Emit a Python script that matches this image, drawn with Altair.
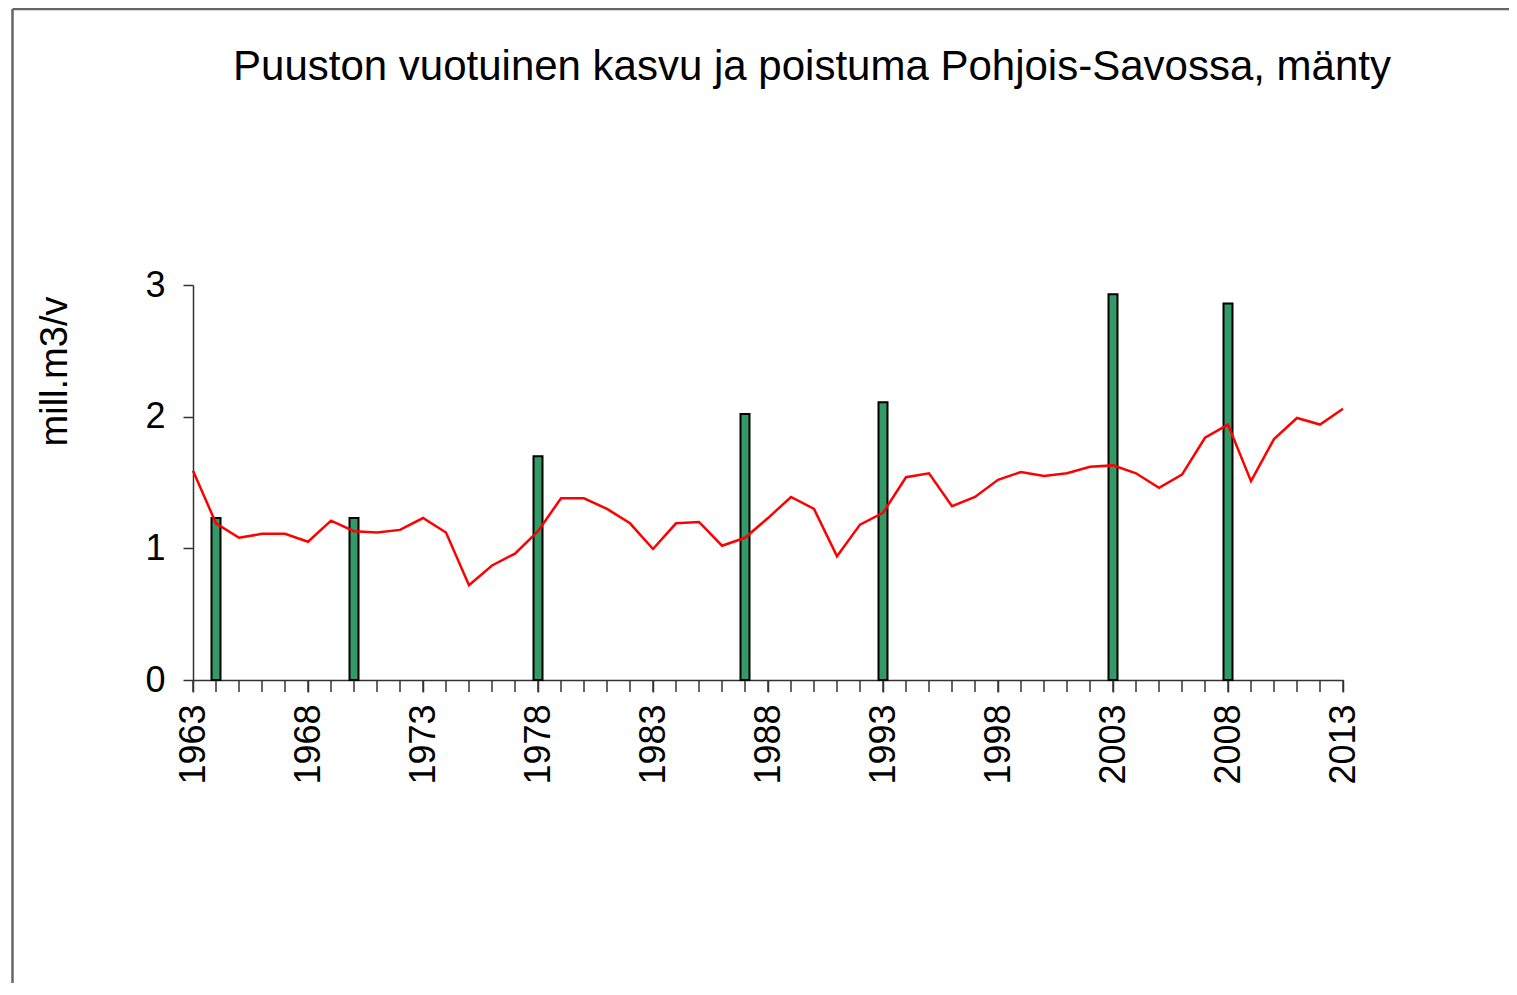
import altair as alt
import pandas as pd

# Data
years = list(range(1963, 2014))
kasvu = [1.59, 1.19, 1.08, 1.11, 1.11, 1.05, 1.21, 1.13, 1.12, 1.14,
         1.23, 1.12, 0.72, 0.87, 0.96, 1.13, 1.38, 1.38, 1.30, 1.19,
         0.995, 1.19, 1.20, 1.02, 1.08, 1.23, 1.39, 1.30, 0.94, 1.18,
         1.27, 1.54, 1.57, 1.32, 1.39, 1.52, 1.58, 1.55, 1.57, 1.62,
         1.63, 1.57, 1.46, 1.56, 1.84, 1.94, 1.51, 1.83, 1.99, 1.94,
         2.06]
poistuma_years = [1964, 1970, 1978, 1987, 1993, 2003, 2008]
poistuma = [1.23, 1.23, 1.70, 2.02, 2.11, 2.93, 2.86]
label_years = list(range(1963, 2014, 5))
y_ticks = [0, 1, 2, 3]

title_text = "Puuston vuotuinen kasvu ja poistuma Pohjois-Savossa, mänty"
y_title = "mill.m3/v"

FONT = "Liberation Sans"
W, H = 1150, 395
PAD_L, PAD_T = 185, 277
TOTAL_W, TOTAL_H = 1501, 975
TICK = 12

line_df = pd.DataFrame({"vuosi": years, "arvo": kasvu})
bar_df = pd.DataFrame({"vuosi": poistuma_years, "arvo": poistuma})
tick_df = pd.DataFrame({"vuosi": years})

x_scale = alt.Scale(domain=[1963, 2013], nice=False, zero=False, padding=0)
y_scale = alt.Scale(domain=[0, 3], nice=False)

x_axis = alt.Axis(
    title=None,
    values=label_years,
    format="d",
    labelAngle=-90,
    labelFontSize=36,
    labelFont=FONT,
    labelColor="#000000",
    labelPadding=12,
    labelOverlap=False,
    labelFlush=False,
    labelBound=False,
    tickSize=TICK,
    tickColor="#333333",
    domainColor="#333333",
    tickWidth=1.5,
    domainWidth=1.5,
    grid=False,
)
y_axis = alt.Axis(
    title=y_title,
    values=y_ticks,
    format="d",
    labelFontSize=36,
    labelFont=FONT,
    labelColor="#000000",
    labelPadding=18,
    tickSize=10,
    tickColor="#333333",
    domainColor="#333333",
    tickWidth=1.5,
    domainWidth=1.5,
    grid=False,
    titleFont=FONT,
    titleFontSize=38,
    titleFontWeight="normal",
    titleColor="#000000",
    titleAngle=270,
    titleAlign="center",
    titleBaseline="bottom",
    titleX=-119,
    titleY=86,
)

X = alt.X("vuosi:Q", scale=x_scale, axis=x_axis)
Y = alt.Y("arvo:Q", scale=y_scale, axis=y_axis)

bars = alt.Chart(bar_df).mark_bar(
    size=9, color="#339966", stroke="#000000", strokeWidth=2
).encode(x=X, y=Y)

line = alt.Chart(line_df).mark_line(color="#FF0000", strokeWidth=2.5).encode(x=X, y=Y)

year_ticks = alt.Chart(tick_df).mark_rule(color="#333333", strokeWidth=1.5).encode(
    x=X, y=alt.value(H), y2=alt.value(H + TICK)
)

frame_df = pd.DataFrame({"k": [0]})
frame_left = alt.Chart(frame_df).mark_rule(color="#666666", strokeWidth=2.5).encode(
    x=alt.value(-180.5), y=alt.value(-PAD_T + 1), y2=alt.value(TOTAL_H - PAD_T)
)
frame_top = alt.Chart(frame_df).mark_rule(color="#666666", strokeWidth=2.5).encode(
    x=alt.value(-180.5), x2=alt.value(TOTAL_W - PAD_L), y=alt.value(-PAD_T + 1)
)

chart = alt.layer(frame_left, frame_top, year_ticks, bars, line).properties(
    width=W,
    height=H,
    background="#ffffff",
    title=alt.TitleParams(
        text=title_text,
        font=FONT,
        fontSize=42,
        fontWeight="normal",
        color="#000000",
        anchor="middle",
        dx=44,
        offset=-81,
    ),
    autosize=alt.AutoSizeParams(type="none"),
    padding={"left": PAD_L, "top": PAD_T, "right": TOTAL_W - W - PAD_L, "bottom": TOTAL_H - H - PAD_T},
).configure_view(strokeOpacity=0, strokeWidth=0)

chart.save("out.html", embed_options={"renderer": "svg", "actions": False})
